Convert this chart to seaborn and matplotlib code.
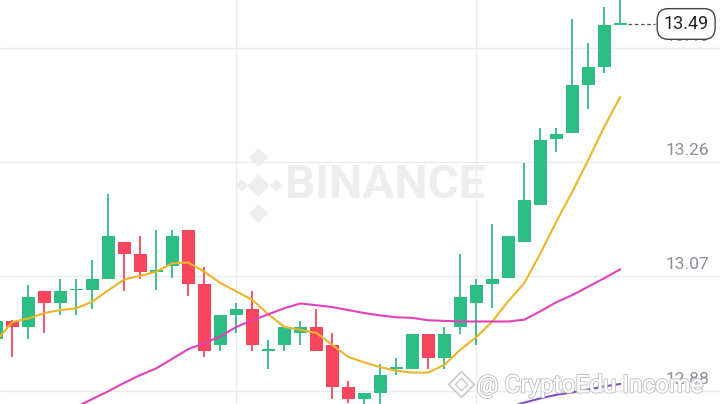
import numpy as np
import pandas as pd
import seaborn as sns
import matplotlib.pyplot as plt
import matplotlib.patheffects as pe
from matplotlib import transforms

sns.set_theme(style="white")
plt.rcParams["font.family"] = ["Roboto", "DejaVu Sans"]

# 蜡烛数据 (最左边一根只露出一部分)
idx = list(range(-1, 39))
opens = [12.966, 12.996, 12.986, 13.046, 13.026, 13.047, 13.047, 13.066, 13.127, 13.107,
         13.077, 13.087, 13.147, 13.057, 12.956, 13.006, 13.016, 12.946, 12.956, 12.976,
         12.986, 12.956, 12.886, 12.866, 12.876, 12.916, 12.916, 12.975, 12.935, 12.986,
         13.026, 13.057, 13.067, 13.127, 13.188, 13.299, 13.308, 13.388, 13.419, 13.489]
highs = [12.996, 12.997, 13.056, 13.046, 13.066, 13.066, 13.097, 13.207, 13.127, 13.137,
         13.147, 13.147, 13.147, 13.086, 13.006, 13.026, 13.046, 12.965, 12.986, 12.996,
         13.016, 12.976, 12.896, 12.876, 12.925, 12.935, 12.975, 12.975, 12.985, 13.107,
         13.066, 13.157, 13.137, 13.258, 13.317, 13.317, 13.498, 13.458, 13.519, 13.540]
lows = [12.966, 12.936, 12.966, 12.976, 13.006, 13.006, 13.016, 13.066, 13.046, 13.066,
        13.047, 13.067, 13.037, 12.936, 12.946, 12.976, 12.946, 12.916, 12.946, 12.956,
        12.946, 12.866, 12.859, 12.854, 12.858, 12.906, 12.916, 12.916, 12.916, 12.975,
        12.956, 13.017, 13.067, 13.127, 13.188, 13.277, 13.308, 13.349, 13.409, 13.489]
closes = [12.996, 12.986, 13.036, 13.026, 13.046, 13.049, 13.066, 13.137, 13.107, 13.077,
          13.080, 13.137, 13.057, 12.946, 13.006, 13.016, 12.956, 12.949, 12.986, 12.986,
          12.946, 12.886, 12.866, 12.876, 12.906, 12.918, 12.975, 12.935, 12.975, 13.036,
          13.056, 13.066, 13.137, 13.197, 13.297, 13.307, 13.388, 13.418, 13.489, 13.490]

# 均线
ma7 = [12.963, 12.994, 13.000, 13.009, 13.014, 13.017, 13.028, 13.047, 13.065, 13.071,
       13.078, 13.092, 13.093, 13.078, 13.059, 13.045, 13.031, 13.007, 12.986, 12.981,
       12.976, 12.956, 12.936, 12.927, 12.919, 12.913, 12.910, 12.910, 12.923, 12.948,
       12.969, 12.995, 13.029, 13.059, 13.108, 13.161, 13.211, 13.264, 13.319, 13.369]
ma25 = [np.nan, np.nan, np.nan, np.nan, 12.839, 12.853, 12.866, 12.879, 12.893, 12.906,
        12.917, 12.933, 12.949, 12.959, 12.970, 12.986, 12.997, 13.007, 13.017, 13.025,
        13.022, 13.019, 13.014, 13.009, 13.005, 13.002, 13.001, 12.997, 12.996, 12.995,
        12.995, 12.995, 12.995, 12.998, 13.012, 13.027, 13.039, 13.053, 13.067, 13.082]
ma99 = [np.nan] * 32 + [12.852, 12.860, 12.867, 12.873, 12.877, 12.882, 12.887, 12.891]

grid_prices = [13.45, 13.26, 13.07, 12.88]
grid_labels = ["13.45", "13.26", "13.07", "12.88"]
grid_x = [14, 29]
last_price = 13.49
last_label = "13.49"

up_color = "#2ebd85"
down_color = "#f6465d"

df = pd.DataFrame({"i": idx, "open": opens, "high": highs, "low": lows, "close": closes,
                   "ma7": ma7, "ma25": ma25, "ma99": ma99})
df["up"] = df["close"] >= df["open"]
df["color"] = np.where(df["up"], up_color, down_color)
df["body_low"] = df[["open", "close"]].min(axis=1)
df["body_h"] = (df["close"] - df["open"]).abs().clip(lower=0.0025)

fig = plt.figure(figsize=(7.2, 4.04), dpi=100)
ax = fig.add_axes([0, 0, 1, 1])
ax.set_facecolor("white")

# 网格
for g in grid_prices:
    ax.axhline(g, color="#ebebeb", lw=1, zorder=0)
for g in grid_x:
    ax.axvline(g, color="#ebebeb", lw=1, zorder=0)

# 水印 BINANCE
ax.text(0.535, 0.542, "BINANCE", transform=ax.transAxes, fontsize=34, fontweight="bold",
        color="#eceef0", ha="center", va="center", zorder=0.5)
lx, ly = 0.359, 0.542
ax.scatter([lx], [ly], marker="D", s=110, color="#eceef0", transform=ax.transAxes, zorder=0.5)
ax.scatter([lx - 0.024, lx + 0.024], [ly, ly], marker="D", s=30, color="#eceef0",
           transform=ax.transAxes, zorder=0.5)
ax.scatter([lx, lx], [ly + 0.07, ly - 0.07], marker="D", s=75, color="#eceef0",
           transform=ax.transAxes, zorder=0.5)

# 蜡烛
ax.vlines(df["i"], df["low"], df["high"], color=df["color"], lw=1.3, zorder=2)
ax.bar(df["i"], df["body_h"], bottom=df["body_low"], width=0.83, color=df["color"],
       linewidth=0, zorder=3)

# 均线
sns.lineplot(data=df, x="i", y="ma7", color="#ecb52a", lw=1.5, ax=ax, zorder=4)
sns.lineplot(data=df, x="i", y="ma25", color="#e043b8", lw=1.5, ax=ax, zorder=4)
sns.lineplot(data=df, x="i", y="ma99", color="#7e52c4", lw=1.5, ax=ax, zorder=4)

ax.set_xlim(-0.77, 44.23)
ax.set_ylim(12.8577, 13.5299)
ax.set_xticks([])
ax.set_yticks([])
ax.set_xlabel("")
ax.set_ylabel("")
for s in ax.spines.values():
    s.set_visible(False)

# 右侧价格刻度
trans = transforms.blended_transform_factory(ax.transAxes, ax.transData)
for p, lab in zip(grid_prices, grid_labels):
    ax.annotate(lab, xy=(0.985, p), xycoords=trans, xytext=(0, 4), textcoords="offset pixels",
                ha="right", va="bottom", fontsize=12.5, color="#8a8f98", zorder=5)

# 当前价
ax.plot([0.872, 0.91], [last_price, last_price], transform=trans, color="#555555",
        lw=0.9, ls=(0, (3, 2)), zorder=5)
ax.text(0.953, last_price, last_label, transform=trans, ha="center", va="center",
        fontsize=13, color="#222222", zorder=6,
        bbox=dict(boxstyle="round,pad=0.35,rounding_size=0.6", fc="white", ec="#444444", lw=1))

# 底部水印
wm = ax.text(0.662, 0.045, "@ CryptoEdu Income", transform=ax.transAxes, ha="left",
             va="center", fontsize=17.5, color="white", zorder=7)
wm.set_path_effects([pe.withStroke(linewidth=1.6, foreground="#c4c4c4"), pe.Normal()])
ax.scatter([0.64], [0.05], marker="D", s=170, facecolor="white", edgecolor="#c8c8c8",
           lw=1.2, transform=ax.transAxes, zorder=7)
ax.scatter([0.64], [0.05], marker="D", s=40, facecolor="white", edgecolor="#c8c8c8",
           lw=1.0, transform=ax.transAxes, zorder=7)

fig.savefig("out.png", dpi=100)
